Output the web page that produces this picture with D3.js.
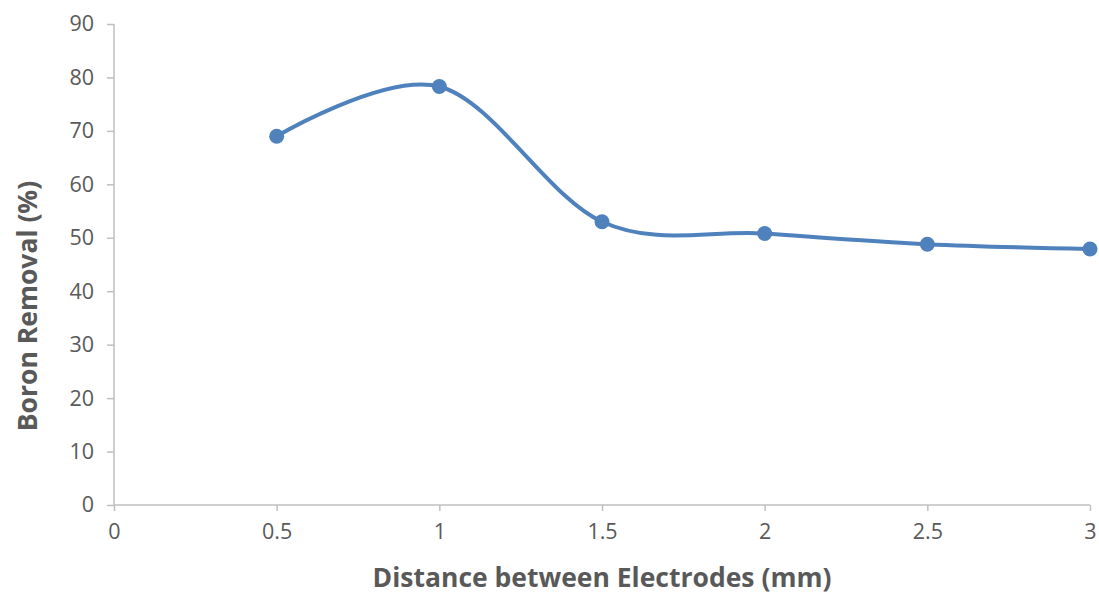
<!DOCTYPE html>
<html>
<head>
<meta charset="utf-8">
<script src="https://cdn.jsdelivr.net/npm/d3@7"></script>
<style>
  body { margin: 0; background: #fff; }
  svg { display: block; }
</style>
</head>
<body>
<svg></svg>
<script>
// data
const distances = [0.5, 1, 1.5, 2, 2.5, 3];
const removal = [69.0, 78.3, 53.0, 50.8, 48.8, 47.9];
const xTicks = [0, 0.5, 1, 1.5, 2, 2.5, 3];
const yTicks = [0, 10, 20, 30, 40, 50, 60, 70, 80, 90];

var svgWidth = 1099, svgHeight = 595;
var margin = { left: 114, right: 9, top: 24, bottom: 90 };

var svg = d3.select('svg')
    .attr("width", svgWidth)
    .attr("height", svgHeight);

var xScale = d3.scaleLinear()
    .domain([0, 3])
    .range([margin.left, svgWidth - margin.right]);

var yScale = d3.scaleLinear()
    .domain([0, 90])
    .range([svgHeight - margin.bottom, margin.top]);

var axisColor = "#BFBFBF", textColor = "#595959";
var font = "Open Sans, Liberation Sans, sans-serif";

var x_axis = d3.axisBottom(xScale).tickValues(xTicks).tickSize(6).tickPadding(13)
    .tickFormat(d3.format("~g"));
var y_axis = d3.axisLeft(yScale).tickValues(yTicks).tickSize(7).tickPadding(13);

var gx = svg.append("g")
    .attr("transform", "translate(0," + yScale(0) + ")")
    .call(x_axis);
var gy = svg.append("g")
    .attr("transform", "translate(" + xScale(0) + ",0)")
    .call(y_axis);

[gx, gy].forEach(function(g) {
    g.attr("font-size", null).attr("font-family", null);
    g.select(".domain").attr("stroke", axisColor).attr("stroke-width", 1.5);
    g.selectAll(".tick line").attr("stroke", axisColor).attr("stroke-width", 1.5);
    g.selectAll(".tick text")
        .attr("fill", textColor)
        .style("font-family", font)
        .style("font-size", "21.5px");
});
gx.select(".domain").attr("d", "M" + xScale(0) + ",0H" + xScale(3));
gy.select(".domain").attr("d", "M0," + yScale(0) + "V" + yScale(90));

var line = d3.line()
    .x(function(d, i) { return xScale(distances[i]); })
    .y(function(d) { return yScale(d); })
    .curve(d3.curveCardinal.tension(0));

svg.append("path")
    .datum(removal)
    .attr("d", line)
    .attr("fill", "none")
    .attr("stroke", "#4F81BD")
    .attr("stroke-width", 4);

svg.selectAll("circle.pt")
    .data(removal)
    .enter()
    .append("circle")
    .attr("class", "pt")
    .attr("cx", function(d, i) { return xScale(distances[i]); })
    .attr("cy", function(d) { return yScale(d); })
    .attr("r", 7.5)
    .attr("fill", "#4F81BD");

svg.append("text")
    .text("Distance between Electrodes (mm)")
    .attr("x", (xScale(0) + xScale(3)) / 2)
    .attr("y", 587)
    .attr("text-anchor", "middle")
    .attr("fill", textColor)
    .style("font-family", font)
    .style("font-weight", "bold")
    .style("font-size", "26.5px");

svg.append("text")
    .text("Boron Removal (%)")
    .attr("transform", "translate(37,306) rotate(-90)")
    .attr("text-anchor", "middle")
    .attr("fill", textColor)
    .style("font-family", font)
    .style("font-weight", "bold")
    .style("font-size", "26.5px");
</script>
</body>
</html>
